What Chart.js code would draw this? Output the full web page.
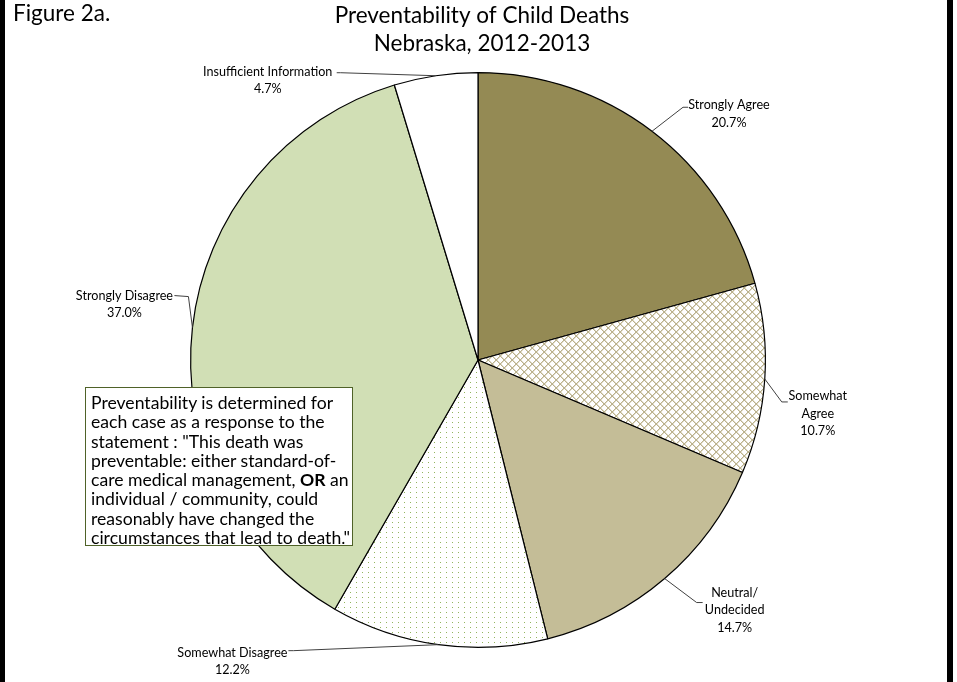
<!DOCTYPE html>
<html>
<head>
<meta charset="utf-8">
<script src="https://cdn.jsdelivr.net/npm/chart.js@4.4.0/dist/chart.umd.min.js"></script>
<style>
  html, body { margin: 0; padding: 0; background: #fff; }
  #wrap { position: relative; width: 957px; height: 682px; overflow: hidden; }
  #note {
    position: absolute; left: 85px; top: 387px; width: 268px; height: 159px;
    box-sizing: border-box; border: 1px solid #4F6228; background: #fff;
    font: 17.6px Lato, sans-serif; line-height: 19.3px; padding: 5px 0 0 5px; color: #000;
    white-space: nowrap; overflow: visible;
  }
</style>
</head>
<body>
<div id="wrap">
  <canvas id="pieChart" width="957" height="682"></canvas>
  <div id="note">Preventability is determined for<br>each case as a response to the<br>statement : "This death was<br>preventable: either standard-of-<br>care medical management, <b>OR</b> an<br>individual / community, could<br>reasonably have changed the<br>circumstances that lead to death."</div>
</div>
<script>
// data
const categories = [
  ['Strongly Agree'],
  ['Somewhat', 'Agree'],
  ['Neutral/', 'Undecided'],
  ['Somewhat Disagree'],
  ['Strongly Disagree'],
  ['Insufficient Information']
];
const percents = [20.7, 10.7, 14.7, 12.2, 37.0, 4.7];
const titleLines = ['Preventability of Child Deaths', 'Nebraska, 2012-2013'];
const figureLabel = 'Figure 2a.';

// label placement, offsets from the slice edge point (px)
const labelLayout = [
  { elbow: [31, -24], end: [36, -24], text: [77, -26] },
  { elbow: [17, 23], end: [23, 23], text: [53, 17] },
  { elbow: [32, 24], end: [38, 24], text: [70, 14] },
  { elbow: [-145, 6], end: [-150, 6], text: [-206, 8] },
  { elbow: [-4, -31], end: [-18, -32], text: [-68, -32] },
  { elbow: [-95, -3], end: [-99, -3], text: [-168, -4] }
];

function makePattern(size, draw) {
  const c = document.createElement('canvas');
  c.width = size[0]; c.height = size[1];
  const g = c.getContext('2d');
  g.fillStyle = '#fff';
  g.fillRect(0, 0, size[0], size[1]);
  draw(g);
  return document.getElementById('pieChart').getContext('2d').createPattern(c, 'repeat');
}

const crossHatch = makePattern([8, 8], g => {
  for (let i = 0; i < 8; i++) {
    g.fillStyle = '#E0DBC8';
    g.fillRect((i + 1) % 8, i, 1, 1);
    g.fillRect((8 - i) % 8, i, 1, 1);
    g.fillStyle = '#BBB28D';
    g.fillRect(i, i, 1, 1);
    g.fillRect(7 - i, i, 1, 1);
  }
});

const dots = makePattern([6, 5], g => {
  g.fillStyle = '#93B45E';
  g.fillRect(2, 2, 1, 1);
});

const sliceColors = ['#948A54', crossHatch, '#C4BD97', dots, '#D1DFB5', '#FFFFFF'];

const calloutPlugin = {
  id: 'callouts',
  afterDatasetsDraw(chart) {
    const ctx = chart.ctx;
    const meta = chart.getDatasetMeta(0);
    ctx.save();
    meta.data.forEach((arc, i) => {
      const p = arc.getProps(['x', 'y', 'startAngle', 'endAngle', 'outerRadius'], true);
      const mid = (p.startAngle + p.endAngle) / 2;
      const ex = p.x + Math.cos(mid) * p.outerRadius;
      const ey = p.y + Math.sin(mid) * p.outerRadius;
      const lay = labelLayout[i];
      ctx.strokeStyle = '#404040';
      ctx.lineWidth = 1;
      ctx.beginPath();
      ctx.moveTo(ex, ey);
      ctx.lineTo(ex + lay.elbow[0], ey + lay.elbow[1]);
      ctx.lineTo(ex + lay.end[0], ey + lay.end[1]);
      ctx.stroke();

      const lines = categories[i].concat([percents[i].toFixed(1) + '%']);
      ctx.fillStyle = '#000';
      ctx.font = '12.6px Lato, sans-serif';
      ctx.textAlign = 'center';
      ctx.textBaseline = 'middle';
      lines.forEach((t, k) => {
        ctx.fillText(t, ex + lay.text[0], ey + lay.text[1] + k * 17.5);
      });
    });
    ctx.restore();
  },
  afterDraw(chart) {
    const ctx = chart.ctx;
    ctx.save();
    ctx.fillStyle = '#000';
    ctx.textBaseline = 'middle';
    ctx.font = '22.5px Lato, sans-serif';
    ctx.textAlign = 'left';
    ctx.fillText(figureLabel, 13, 14);
    ctx.textAlign = 'center';
    ctx.fillText(titleLines[0], 482, 16);
    ctx.fillText(titleLines[1], 482, 44);
    // page frame
    ctx.fillRect(0, 0, 5, 682);
    ctx.fillRect(947, 0, 6, 682);
    ctx.restore();
  }
};

new Chart(document.getElementById('pieChart').getContext('2d'), {
  type: 'pie',
  data: {
    labels: categories,
    datasets: [{
      data: percents,
      backgroundColor: sliceColors,
      borderColor: '#000',
      borderWidth: 1.2
    }]
  },
  options: {
    responsive: false,
    animation: false,
    layout: { padding: { top: 72, bottom: 34, left: 190, right: 191 } },
    plugins: {
      legend: { display: false },
      tooltip: { enabled: false },
      title: { display: false }
    }
  },
  plugins: [calloutPlugin]
});
</script>
</body>
</html>
